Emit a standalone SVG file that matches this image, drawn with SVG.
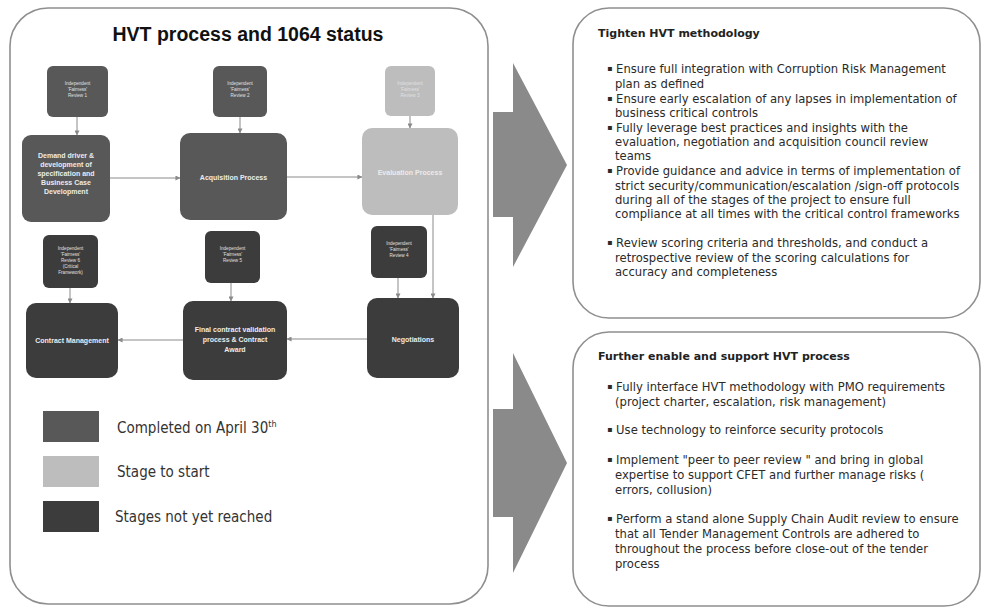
<svg xmlns="http://www.w3.org/2000/svg" width="984" height="609" viewBox="0 0 984 609">
<style>
.panel{fill:#fff;stroke:#8f8f8f;stroke-width:1.6}
.big{fill:#8a8a8a}
.done{fill:#585858}
.start{fill:#bdbdbd}
.todo{fill:#3c3c3c}
.nt{font-family:"Liberation Sans",Arial,sans-serif;font-size:7px;font-weight:bold;fill:#ececec;text-anchor:middle}
.st{font-family:"Liberation Sans",Arial,sans-serif;font-size:4.6px;fill:#e0e0e0;text-anchor:middle}
.lg{font-family:"DejaVu Sans Condensed","DejaVu Sans",sans-serif;font-size:15px;fill:#333}
.hd{font-family:"DejaVu Sans",sans-serif;font-size:11px;font-weight:bold;fill:#222}
.bt{font-family:"DejaVu Sans",sans-serif;font-size:11.6px;fill:#2a2a2a}
.bu{font-size:8px}
.ln{fill:none;stroke:#8a8a8a;stroke-width:1}
</style>
<defs>
<marker id="ah" viewBox="0 0 6 6" refX="5.5" refY="3" markerWidth="5" markerHeight="5" orient="auto" markerUnits="userSpaceOnUse">
<path d="M0,0 L6,3 L0,6 z" fill="#8a8a8a"/>
</marker>
</defs>
<rect width="984" height="609" fill="#fff"/>

<g id="left-panel">
<rect class="panel" x="10" y="8" width="478" height="596" rx="38"/>
<text x="248" y="41" font-family="Liberation Sans,Arial,sans-serif" font-size="19.5" font-weight="bold" fill="#111" text-anchor="middle">HVT process and 1064 status</text>
</g>

<g id="big-arrows">
<polygon class="big" points="493,112 513,112 513,63 567,165 513,267 513,217 493,217"/>
<polygon class="big" points="493,409 513,409 513,353 567,463 513,573 513,517 493,517"/>
</g>

<g id="connectors">
<line class="ln" x1="77" y1="117" x2="77" y2="135" marker-end="url(#ah)"/>
<line class="ln" x1="240" y1="117" x2="240" y2="133" marker-end="url(#ah)"/>
<line class="ln" x1="410" y1="116" x2="410" y2="128" marker-end="url(#ah)"/>
<line class="ln" x1="110" y1="178" x2="180" y2="178" marker-end="url(#ah)"/>
<line class="ln" x1="287" y1="177" x2="362" y2="177" marker-end="url(#ah)"/>
<line class="ln" x1="433" y1="215" x2="433" y2="298" marker-end="url(#ah)"/>
<line class="ln" x1="398" y1="278" x2="398" y2="298" marker-end="url(#ah)"/>
<line class="ln" x1="70" y1="288" x2="70" y2="303" marker-end="url(#ah)"/>
<line class="ln" x1="231" y1="283" x2="231" y2="301" marker-end="url(#ah)"/>
<line class="ln" x1="367" y1="339" x2="287" y2="339" marker-end="url(#ah)"/>
<line class="ln" x1="183" y1="340" x2="118" y2="340" marker-end="url(#ah)"/>
</g>

<g id="review1">
<rect class="done" x="47" y="66" width="61" height="51" rx="6"/>
<text class="st" x="77.5" y="85">Independent</text><text class="st" x="77.5" y="91">'Fairness'</text><text class="st" x="77.5" y="97">Review 1</text>
</g>
<g id="review2">
<rect class="done" x="213" y="66" width="54" height="51" rx="6"/>
<text class="st" x="240" y="85">Independent</text><text class="st" x="240" y="91">'Fairness'</text><text class="st" x="240" y="97">Review 2</text>
</g>
<g id="review3">
<rect class="start" x="385" y="66" width="50" height="50" rx="6"/>
<text class="st" x="410" y="85">Independent</text><text class="st" x="410" y="91">'Fairness'</text><text class="st" x="410" y="97">Review 3</text>
</g>

<g id="demand">
<rect class="done" x="22" y="135" width="88" height="87" rx="9"/>
<text class="nt" x="66" y="158">Demand driver &amp;</text>
<text class="nt" x="66" y="167">development of</text>
<text class="nt" x="66" y="176">specification and</text>
<text class="nt" x="66" y="185">Business Case</text>
<text class="nt" x="66" y="194">Development</text>
</g>
<g id="acquisition">
<rect class="done" x="180" y="133" width="107" height="87" rx="10"/>
<text class="nt" x="233.5" y="180">Acquisition Process</text>
</g>
<g id="evaluation">
<rect class="start" x="362" y="128" width="96" height="87" rx="10"/>
<text class="nt" x="410" y="175">Evaluation Process</text>
</g>

<g id="review6">
<rect class="todo" x="43" y="235" width="55" height="53" rx="6"/>
<text class="st" x="70.5" y="250">Independent</text><text class="st" x="70.5" y="256">'Fairness'</text><text class="st" x="70.5" y="262">Review 6</text><text class="st" x="70.5" y="268">(Critical</text><text class="st" x="70.5" y="274">Framework)</text>
</g>
<g id="review5">
<rect class="todo" x="205" y="231" width="55" height="52" rx="6"/>
<text class="st" x="232.5" y="250">Independent</text><text class="st" x="232.5" y="256">'Fairness'</text><text class="st" x="232.5" y="262">Review 5</text>
</g>
<g id="review4">
<rect class="todo" x="371" y="226" width="56" height="52" rx="6"/>
<text class="st" x="399" y="245">Independent</text><text class="st" x="399" y="251">'Fairness'</text><text class="st" x="399" y="257">Review 4</text>
</g>

<g id="contract-management">
<rect class="todo" x="26" y="303" width="92" height="75" rx="10"/>
<text class="nt" x="72" y="343">Contract Management</text>
</g>
<g id="final-contract">
<rect class="todo" x="183" y="301" width="104" height="79" rx="10"/>
<text class="nt" x="235" y="332">Final contract validation</text>
<text class="nt" x="235" y="342">process  &amp; Contract</text>
<text class="nt" x="235" y="352">Award</text>
</g>
<g id="negotiations">
<rect class="todo" x="367" y="298" width="92" height="80" rx="10"/>
<text class="nt" x="413" y="342">Negotiations</text>
</g>

<g id="legend">
<rect class="done" x="43" y="411" width="56" height="31"/>
<text class="lg" x="117" y="433">Completed on April 30<tspan font-size="9" dy="-6">th</tspan></text>
<rect class="start" x="43" y="456" width="56" height="31"/>
<text class="lg" x="117" y="477">Stage to start</text>
<rect class="todo" x="43" y="501" width="56" height="31"/>
<text class="lg" x="115" y="522">Stages not yet reached</text>
</g>

<g id="tighten-panel">
<rect class="panel" x="573" y="8" width="407" height="310" rx="36"/>
<text class="hd" x="598" y="37">Tighten HVT methodology</text>
<text class="bt" x="607" y="73"><tspan class="bu" dy="-2">▪</tspan><tspan dy="2"> Ensure full integration with Corruption Risk Management</tspan></text>
<text class="bt" x="615" y="88">plan as defined</text>
<text class="bt" x="607" y="103"><tspan class="bu" dy="-2">▪</tspan><tspan dy="2"> Ensure early escalation of any lapses in implementation of</tspan></text>
<text class="bt" x="615" y="117">business critical controls</text>
<text class="bt" x="607" y="132"><tspan class="bu" dy="-2">▪</tspan><tspan dy="2">  Fully leverage best practices and insights with the</tspan></text>
<text class="bt" x="615" y="146">evaluation, negotiation and acquisition council review</text>
<text class="bt" x="615" y="160">teams</text>
<text class="bt" x="607" y="175"><tspan class="bu" dy="-2">▪</tspan><tspan dy="2">  Provide guidance and advice in terms of implementation of</tspan></text>
<text class="bt" x="615" y="190">strict security/communication/escalation /sign-off protocols</text>
<text class="bt" x="615" y="204">during all of the stages of the project to ensure full</text>
<text class="bt" x="615" y="218">compliance at all times with the critical control frameworks</text>
<text class="bt" x="607" y="247"><tspan class="bu" dy="-2">▪</tspan><tspan dy="2"> Review scoring criteria and thresholds, and conduct  a</tspan></text>
<text class="bt" x="615" y="262">retrospective review of the scoring calculations for</text>
<text class="bt" x="615" y="276">accuracy and completeness</text>
</g>

<g id="enable-panel">
<rect class="panel" x="573" y="332" width="407" height="274" rx="36"/>
<text class="hd" x="598" y="360">Further enable and support HVT process</text>
<text class="bt" x="607" y="391"><tspan class="bu" dy="-2">▪</tspan><tspan dy="2"> Fully interface HVT methodology with PMO requirements</tspan></text>
<text class="bt" x="615" y="406">(project charter, escalation, risk management)</text>
<text class="bt" x="607" y="434"><tspan class="bu" dy="-2">▪</tspan><tspan dy="2"> Use technology to reinforce security protocols</tspan></text>
<text class="bt" x="607" y="464"><tspan class="bu" dy="-2">▪</tspan><tspan dy="2"> Implement "peer to peer review " and bring in global</tspan></text>
<text class="bt" x="615" y="479">expertise to support CFET and further manage risks (</text>
<text class="bt" x="615" y="494">errors, collusion)</text>
<text class="bt" x="607" y="523"><tspan class="bu" dy="-2">▪</tspan><tspan dy="2"> Perform a stand alone Supply Chain Audit review to ensure</tspan></text>
<text class="bt" x="615" y="538">that all Tender Management Controls are adhered to</text>
<text class="bt" x="615" y="553">throughout the process before close-out of the tender</text>
<text class="bt" x="615" y="568">process</text>
</g>
</svg>
